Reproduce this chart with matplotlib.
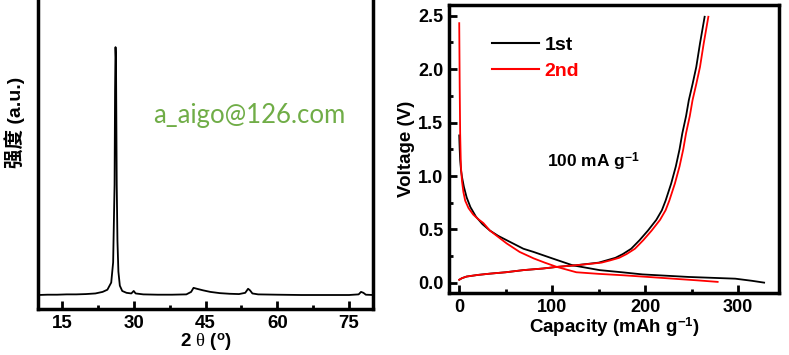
import matplotlib
matplotlib.use("Agg")
import matplotlib.pyplot as plt
from matplotlib.ticker import MultipleLocator

# XRD pattern (2 theta in degrees, intensity in arbitrary units)
two_theta = [10, 12, 14, 16, 18, 20, 22, 23.5, 24.5, 25.3, 25.7, 26.0, 26.1, 26.2,
             26.3, 26.45, 26.6, 26.8, 27.1, 27.6, 28.5, 29.5, 30.0, 30.4, 32, 35, 38,
             41, 42.0, 42.5, 43.2, 44.5, 46, 48, 50, 52, 53.3, 53.9, 54.3, 54.8, 56,
             60, 65, 70, 75, 77.0, 77.5, 78.0, 78.5, 80]
intensity = [0.045, 0.046, 0.046, 0.047, 0.047, 0.048, 0.050, 0.055, 0.062, 0.085,
             0.15, 0.40, 0.70, 0.842, 0.80, 0.40, 0.22, 0.12, 0.075, 0.058, 0.052,
             0.050, 0.058, 0.050, 0.047, 0.046, 0.046, 0.047, 0.055, 0.068, 0.065,
             0.060, 0.055, 0.051, 0.049, 0.048, 0.052, 0.065, 0.060, 0.050, 0.047,
             0.046, 0.045, 0.045, 0.045, 0.047, 0.055, 0.052, 0.046, 0.045]

# galvanostatic curves (capacity in mAh/g, voltage in V)
cap1_dis = [0, 0.5, 1, 2, 3, 5, 8, 12, 18, 25, 33, 42, 51, 60, 69, 80, 100, 122,
            151, 175, 197, 222, 247, 272, 297, 315, 328]
v1_dis = [1.38, 1.25, 1.15, 1.05, 0.99, 0.90, 0.80, 0.71, 0.62, 0.55, 0.49, 0.44,
          0.40, 0.36, 0.32, 0.29, 0.23, 0.165, 0.12, 0.10, 0.08, 0.068, 0.056, 0.048,
          0.04, 0.02, 0.003]
cap1_ch = [0, 3, 8, 20, 33, 50, 69, 90, 105, 125, 140, 150, 158, 168, 176, 185, 194,
           203, 212, 218, 222, 228, 233, 237, 240, 244, 247, 251, 255, 259, 264]
v1_ch = [0.03, 0.045, 0.06, 0.075, 0.087, 0.10, 0.12, 0.135, 0.15, 0.165, 0.18, 0.19,
         0.21, 0.235, 0.27, 0.32, 0.40, 0.49, 0.59, 0.68, 0.77, 0.93, 1.09, 1.25, 1.40,
         1.56, 1.71, 1.86, 2.02, 2.24, 2.49]

cap2_dis = [0, 0.2, 0.5, 1, 1.8, 3, 4.5, 6.4, 10, 15, 20, 26, 33, 42, 51, 65, 80, 92,
            105, 126, 150, 176, 205, 230, 255, 278]
v2_dis = [2.43, 2.2, 1.84, 1.4, 1.09, 0.95, 0.85, 0.77, 0.70, 0.64, 0.60, 0.56, 0.49,
          0.43, 0.37, 0.29, 0.23, 0.19, 0.15, 0.10, 0.085, 0.072, 0.055, 0.04, 0.025,
          0.01]
cap2_ch = [0, 3, 8, 20, 33, 50, 69, 90, 105, 125, 142, 153, 162, 172, 180, 189, 198,
           207, 216, 222, 226, 232, 237, 241, 244, 248, 251, 255, 259, 263, 268]
v2_ch = v1_ch

plt.rcParams['font.family'] = ['Liberation Sans', 'DejaVu Sans']
plt.rcParams['mathtext.fontset'] = 'custom'
plt.rcParams['mathtext.rm'] = 'Liberation Sans'
plt.rcParams['mathtext.bf'] = 'Liberation Sans:bold'
plt.rcParams['mathtext.it'] = 'Liberation Serif'

W, H = 789, 355
fig = plt.figure(figsize=(W / 100, H / 100), dpi=100)


def px_box(l, t, r, b):
    return [l / W, 1 - b / H, (r - l) / W, (b - t) / H]


# ---- left panel: XRD ----
ax1 = fig.add_axes(px_box(38, -2, 373, 309))
ax1.plot(two_theta, intensity, color='black', lw=1.3)
ax1.set_xlim(10, 80)
ax1.set_ylim(0, 1.0)
ax1.xaxis.set_major_locator(MultipleLocator(15))
ax1.xaxis.set_minor_locator(MultipleLocator(7.5))
ax1.set_yticks([])
ax1.tick_params(axis='x', which='major', direction='in', length=6, width=2, pad=4,
                labelsize=13.5)
ax1.tick_params(axis='x', which='minor', direction='in', length=3, width=2)
for lab in ax1.get_xticklabels():
    lab.set_fontweight('bold')
for s in ax1.spines.values():
    s.set_linewidth(2.5)
ax1.set_xlabel(r'2 $\mathit{\theta}$ ($^{\mathbf{o}}$)', fontsize=13.5, fontweight='bold',
               labelpad=0)

fig.text(15 / W, 1 - 122 / H, '强度 (a.u.)', rotation=90, ha='center', va='center',
         fontsize=14, fontweight='bold',
         family=['Liberation Sans', 'Noto Sans CJK SC', 'DejaVu Sans'])

fig.text(249 / W, 1 - 115 / H, 'a_aigo@126.com', ha='center', va='center',
         fontsize=18.5, color='#70ad47', family=['Lato', 'DejaVu Sans'])

# ---- right panel: charge/discharge ----
ax2 = fig.add_axes(px_box(449, 5, 779, 293))
ax2.plot(cap1_dis, v1_dis, color='black', lw=1.3, label='1st')
ax2.plot(cap1_ch, v1_ch, color='black', lw=1.3)
ax2.plot(cap2_dis, v2_dis, color='red', lw=1.3, label='2nd')
ax2.plot(cap2_ch, v2_ch, color='red', lw=1.3)
ax2.set_xlim(-11, 344)
ax2.set_ylim(-0.094, 2.6)
ax2.xaxis.set_major_locator(MultipleLocator(100))
ax2.xaxis.set_minor_locator(MultipleLocator(50))
ax2.yaxis.set_major_locator(MultipleLocator(0.5))
ax2.yaxis.set_minor_locator(MultipleLocator(0.25))
ax2.tick_params(which='major', direction='in', length=6, width=2, labelsize=13, pad=4)
ax2.tick_params(which='minor', direction='in', length=3, width=2)
for lab in ax2.get_xticklabels() + ax2.get_yticklabels():
    lab.set_fontweight('bold')
for s in ax2.spines.values():
    s.set_linewidth(2.5)
ax2.set_xlabel(r'Capacity (mAh g$^{\mathbf{-1}}$)', fontsize=13.5, fontweight='bold',
               labelpad=0)
ax2.set_ylabel('Voltage (V)', fontsize=13.5, fontweight='bold', labelpad=2)

leg = ax2.legend(loc='upper left', bbox_to_anchor=(0.13, 0.89), frameon=False,
                 handlelength=2.4, handletextpad=0.3, labelspacing=0.4,
                 borderaxespad=0, borderpad=0, labelcolor='linecolor',
                 prop={'weight': 'bold', 'size': 14})
for ln in leg.get_lines():
    ln.set_linewidth(1.5)

ax2.text(94.6, 1.13, r'100 mA g$^{\mathbf{-1}}$', fontsize=12.5, fontweight='bold',
         ha='left', va='center')

fig.savefig('out.png', dpi=100)
